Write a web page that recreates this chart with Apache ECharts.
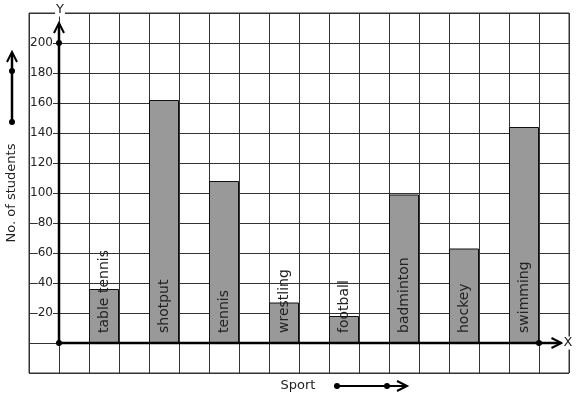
<!DOCTYPE html>
<html lang="en" style="height: 100%">
<head>
<meta charset="utf-8">
<title>Students by sport</title>
</head>
<body style="height: 100%; margin: 0; background: #fff">
<div id="container" style="height: 100%"></div>

<script type="text/javascript" src="https://cdn.jsdelivr.net/npm/echarts/dist/echarts.min.js"></script>

<script type="text/javascript">
var sports = ['table tennis', 'shotput', 'tennis', 'wrestling', 'football', 'badminton', 'hockey', 'swimming'];
var students = [36, 162, 108, 27, 18, 99, 63, 144];
var yTickLabels = [20, 40, 60, 80, 100, 120, 140, 160, 180, 200];

var dom = document.getElementById('container');
var myChart = echarts.init(dom, null, { width: 577, height: 399 });

var font = 'DejaVu Sans';
var lineCol = '#333';

// each sport sits in every other grid column, starting one column right of the Y axis
var barData = students.map(function (v, i) {
    return { value: [1.5 + 2 * i, v], name: sports[i] };
});

option = {
    animation: false,
    grid: {
        left: 29, top: 13, width: 540, height: 360,
        show: true, borderColor: lineCol, borderWidth: 1
    },
    xAxis: {
        type: 'value', min: -1, max: 17, interval: 1,
        axisLine: { show: false }, axisTick: { show: false }, axisLabel: { show: false },
        splitLine: { show: true, lineStyle: { color: lineCol, width: 1 } }
    },
    yAxis: {
        type: 'value', min: -20, max: 220, interval: 20,
        axisLine: { show: false }, axisTick: { show: false },
        splitLine: { show: true, lineStyle: { color: lineCol, width: 1 } },
        axisLabel: {
            inside: true, align: 'right', margin: 24,
            fontFamily: font, fontSize: 12, color: '#222',
            backgroundColor: '#fff', padding: 0,
            showMinLabel: false, showMaxLabel: false,
            formatter: function (v) { return yTickLabels.indexOf(v) >= 0 ? String(v) : ''; }
        }
    },
    series: [{
        type: 'bar',
        data: barData,
        barWidth: 30,
        itemStyle: { color: '#999999', borderColor: '#111', borderWidth: 1 },
        label: {
            show: true, position: 'insideBottom', rotate: 90,
            align: 'left', verticalAlign: 'middle', distance: 10,
            fontFamily: font, fontSize: 14, color: '#222',
            formatter: '{b}'
        },
        z: 3
    }]
};

myChart.setOption(option);

// axes with open arrowheads, drawn on top of the grid
function px(p) { return myChart.convertToPixel({ gridIndex: 0 }, p); }
var o = px([0, 0]);
var yTop = px([0, 213.3]);
var xEnd = px([16.75, 0]);
var y200 = px([0, 200]);
var x16 = px([16, 0]);
var black = '#000';

function chevron(tip, dir) {
    // dir: 'up' or 'right'
    if (dir === 'up') {
        return [[tip[0] - 5, tip[1] + 10], tip, [tip[0] + 5, tip[1] + 10]];
    }
    return [[tip[0] - 10, tip[1] - 5], tip, [tip[0] - 10, tip[1] + 5]];
}
function dot(p) {
    return { type: 'circle', shape: { cx: p[0], cy: p[1], r: 3 }, style: { fill: black }, z: 10 };
}
function pline(points, w) {
    return { type: 'polyline', shape: { points: points }, style: { stroke: black, lineWidth: w, fill: null }, z: 10 };
}

myChart.setOption({
    graphic: [
        pline([o, [yTop[0], yTop[1] + 1]], 2.5),
        pline(chevron(yTop, 'up'), 2),
        pline([o, [xEnd[0] - 1, xEnd[1]]], 2.5),
        pline(chevron(xEnd, 'right'), 2),
        dot(o), dot(y200), dot(x16),
        {
            type: 'text', x: o[0] + 1, y: 10, z: 10,
            style: { text: 'Y', fontFamily: font, fontSize: 13, fill: '#222', align: 'center', verticalAlign: 'middle', backgroundColor: '#fff', padding: [0, 1] }
        },
        {
            type: 'text', x: 568, y: o[1], z: 10,
            style: { text: 'X', fontFamily: font, fontSize: 13, fill: '#222', align: 'center', verticalAlign: 'middle', backgroundColor: '#fff', padding: [0, 1] }
        },
        {
            type: 'text', x: 12, y: 193, rotation: Math.PI / 2, z: 10,
            style: { text: 'No. of students', fontFamily: font, fontSize: 13, fill: '#222', align: 'center', verticalAlign: 'middle' }
        },
        {
            type: 'text', x: 298, y: 386, z: 10,
            style: { text: 'Sport', fontFamily: font, fontSize: 13, fill: '#222', align: 'center', verticalAlign: 'middle' }
        },
        // left direction arrow
        pline([[12, 122], [12, 53]], 2.5),
        pline([[7, 62], [12, 52], [17, 62]], 2),
        dot([12, 71]), dot([12, 122]),
        // bottom direction arrow
        pline([[337, 386], [406, 386]], 2),
        pline([[397, 381], [407, 386], [397, 391]], 2),
        dot([337, 386]), dot([387, 386])
    ]
});

window.addEventListener('resize', myChart.resize);
</script>
</body>
</html>
